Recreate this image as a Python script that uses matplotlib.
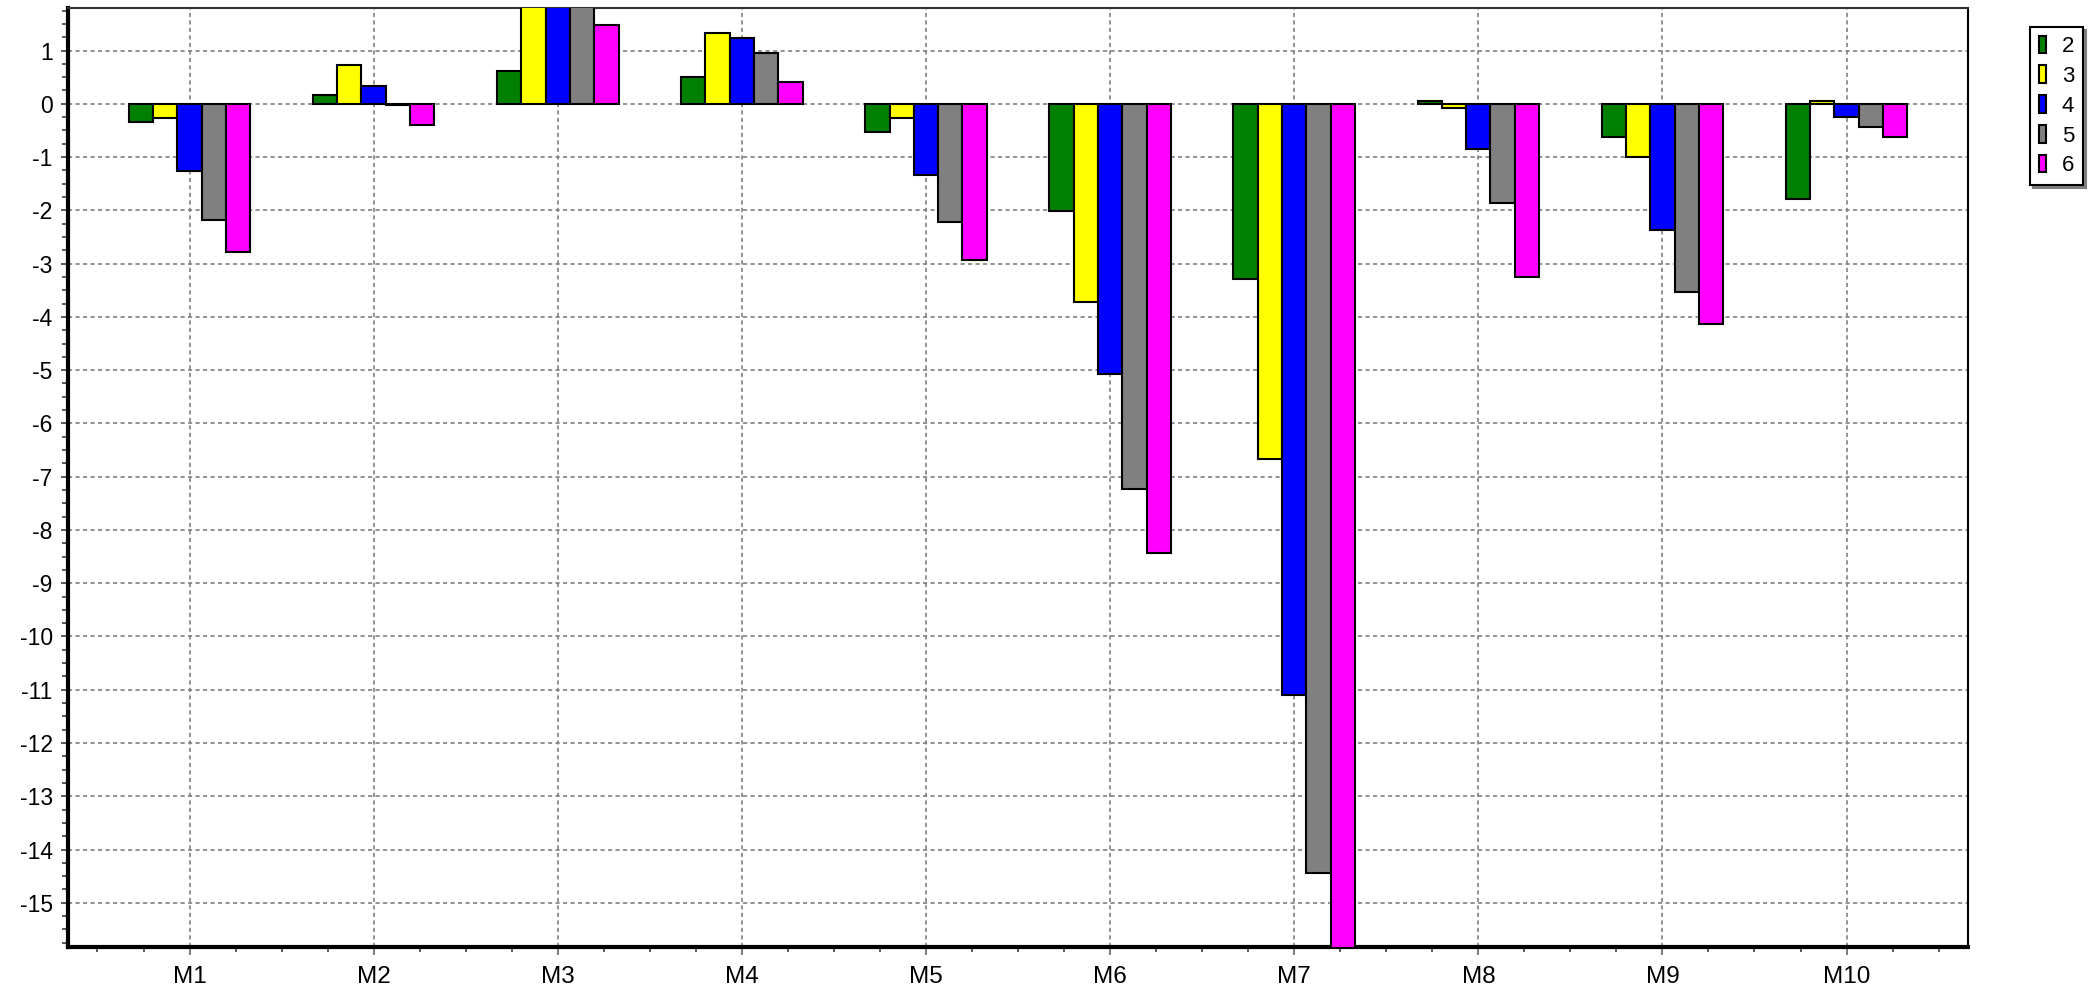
import matplotlib
matplotlib.use('Agg')
import matplotlib.pyplot as plt
from matplotlib.ticker import MultipleLocator
import numpy as np

plt.rcParams['font.family'] = ['Liberation Sans', 'DejaVu Sans']
plt.rcParams['axes.unicode_minus'] = False

# Data (M3 / M7 bars that run off the plot are clipped)
categories = ['M1', 'M2', 'M3', 'M4', 'M5', 'M6', 'M7', 'M8', 'M9', 'M10']
series_names = ['2', '3', '4', '5', '6']
series_colors = ['#008000', '#ffff00', '#0000ff', '#808080', '#ff00ff']

s2 = [-0.35, 0.16, 0.61, 0.51, -0.52, -2.02, -3.29, 0.06, -0.63, -1.79]
s3 = [-0.27, 0.72, 2.2, 1.32, -0.27, -3.73, -6.66, -0.07, -1.00, 0.06]
s4 = [-1.27, 0.33, 2.4, 1.24, -1.34, -5.08, -11.10, -0.84, -2.37, -0.24]
s5 = [-2.18, -0.03, 2.3, 0.96, -2.22, -7.24, -14.45, -1.86, -3.53, -0.43]
s6 = [-2.78, -0.39, 1.48, 0.41, -2.94, -8.44, -16.5, -3.25, -4.13, -0.63]
series = [s2, s3, s4, s5, s6]

fig = plt.figure(figsize=(20.93, 9.91), dpi=100, facecolor='white')
ax = fig.add_axes([0.0325, 0.0444, 0.9078, 0.9476])

x = np.arange(1, len(categories) + 1)
bar_w = 0.132
for i, (vals, name, color) in enumerate(zip(series, series_names, series_colors)):
    ax.bar(x + (i - 2) * bar_w, vals, width=bar_w, color=color, edgecolor='black',
           linewidth=1.5, label=name, zorder=3)

ax.set_xlim(0.34, 10.66)
ax.set_ylim(-15.83, 1.80)

# Ticks
ax.set_xticks(x)
ax.set_xticklabels(categories)
ax.xaxis.set_minor_locator(MultipleLocator(0.25))
ax.yaxis.set_major_locator(MultipleLocator(1))
ax.yaxis.set_minor_locator(MultipleLocator(0.25))
ax.tick_params(axis='x', which='major', direction='out', length=6, width=1.5,
               color='#808080', pad=8, labelsize=17.5)
ax.tick_params(axis='x', which='minor', direction='out', length=3.5, width=1.2,
               color='#404040')
ax.tick_params(axis='y', which='major', direction='out', length=5, width=1.2,
               color='#404040', pad=6, labelsize=16.5)
ax.tick_params(axis='y', which='minor', direction='out', length=4, width=1.2,
               color='#404040')

# Grid
ax.set_axisbelow(True)
ax.grid(True, which='major', color='#808080', linestyle=(0, (2.5, 2)), linewidth=1.2)

# Spines
ax.spines['left'].set_linewidth(3)
ax.spines['bottom'].set_linewidth(3)
ax.spines['top'].set_linewidth(1.5)
ax.spines['top'].set_color('#333333')
ax.spines['right'].set_linewidth(1.5)
ax.spines['right'].set_color('black')

# Legend outside to the right
leg = ax.legend(loc='upper left', bbox_to_anchor=(0.970, 0.973),
                bbox_transform=fig.transFigure, borderaxespad=0,
                fontsize=16, handlelength=0.32, handleheight=0.85,
                handletextpad=0.7, labelspacing=0.37, borderpad=0.4,
                fancybox=False, shadow={'color': '#808080', 'alpha': 1.0},
                framealpha=1, edgecolor='black')
leg.get_frame().set_linewidth(1.5)

fig.savefig('out.png', dpi=100, facecolor='white')
